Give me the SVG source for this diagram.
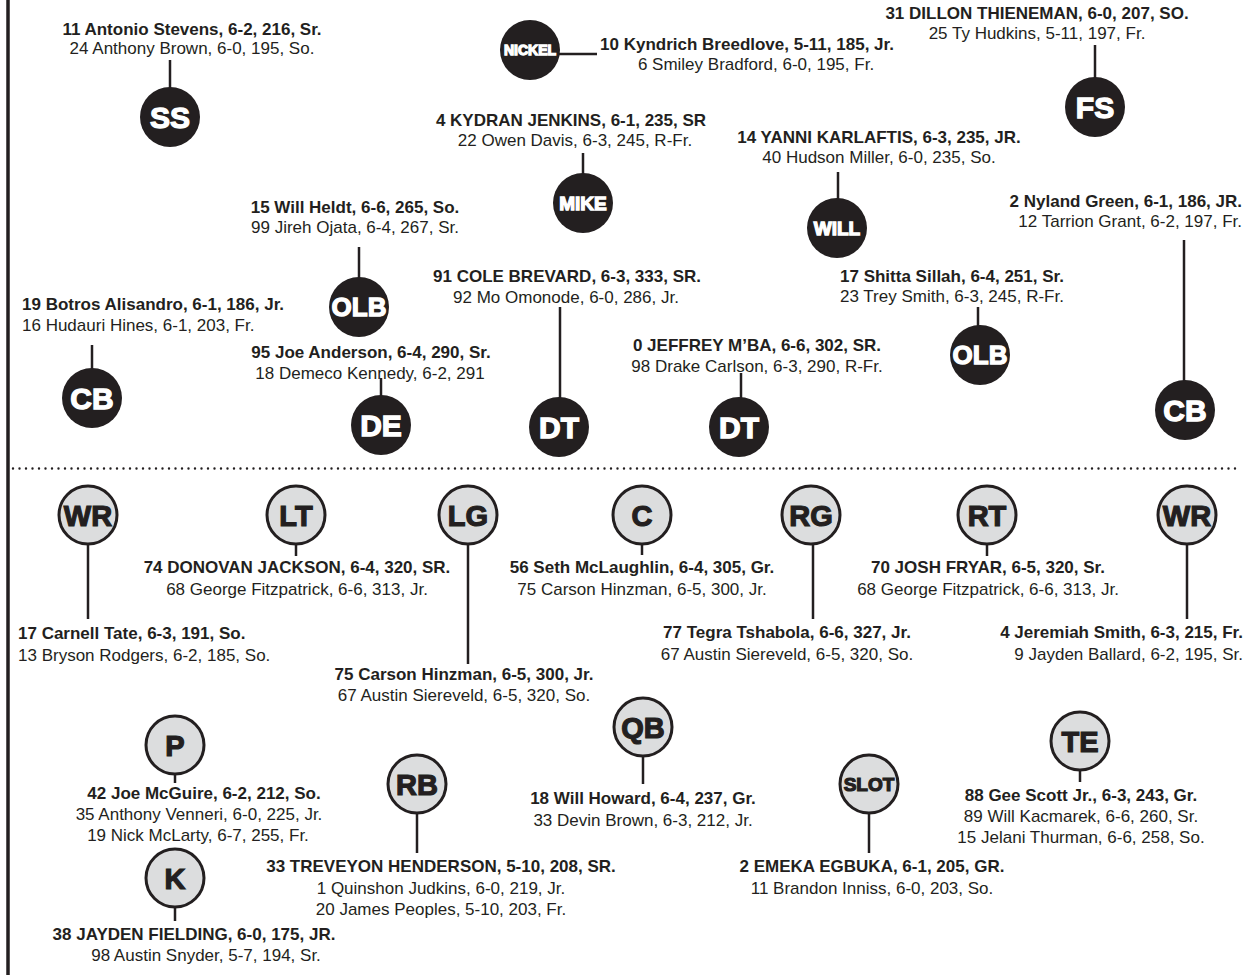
<svg xmlns="http://www.w3.org/2000/svg" width="1245" height="979" viewBox="0 0 1245 979">
<style>
.b{font-family:"Liberation Sans",Arial,sans-serif;font-size:17px;font-weight:700;fill:#231f20}
.n{font-family:"Liberation Sans",Arial,sans-serif;font-size:17px;fill:#231f20}
.m{text-anchor:middle}
.e{text-anchor:end}
.dc{fill:#231f20}
.oc{fill:#dcddde;stroke:#231f20;stroke-width:3}
.dl{font-family:"Liberation Sans",Arial,sans-serif;font-weight:700;fill:#fff;stroke:#fff;stroke-width:1.3;text-anchor:middle}
.ol{font-family:"Liberation Sans",Arial,sans-serif;font-weight:700;fill:#231f20;stroke:#231f20;stroke-width:1.2;text-anchor:middle}
.big{font-size:30px}
.sl{font-size:29px}
#connectors line{stroke:#231f20;stroke-width:2.5}
</style>
<rect width="1245" height="979" fill="#fff"/>
<line x1="8" y1="0" x2="8" y2="975" stroke="#231f20" stroke-width="3.5"/>
<line x1="13" y1="468.5" x2="1240" y2="468.5" stroke="#231f20" stroke-width="2.4" stroke-linecap="round" stroke-dasharray="0 6.5"/>

<g id="connectors">
<line x1="170" y1="60" x2="170" y2="88"/>
<line x1="559" y1="54" x2="597" y2="54"/>
<line x1="1095" y1="45" x2="1095" y2="78"/>
<line x1="583" y1="153" x2="583" y2="174"/>
<line x1="838" y1="172" x2="838" y2="200"/>
<line x1="359" y1="247" x2="359" y2="278"/>
<line x1="92" y1="345" x2="92" y2="369"/>
<line x1="381" y1="378" x2="381" y2="396"/>
<line x1="560" y1="307" x2="560" y2="398"/>
<line x1="741" y1="373" x2="741" y2="398"/>
<line x1="978" y1="307" x2="978" y2="326"/>
<line x1="1184" y1="240" x2="1184" y2="381"/>
<line x1="88" y1="545" x2="88" y2="619"/>
<line x1="296" y1="545" x2="296" y2="556"/>
<line x1="468" y1="545" x2="468" y2="664"/>
<line x1="642" y1="545" x2="642" y2="555"/>
<line x1="813" y1="545" x2="813" y2="619"/>
<line x1="987" y1="545" x2="987" y2="556"/>
<line x1="1187" y1="545" x2="1187" y2="619"/>
<line x1="175" y1="775" x2="175" y2="783"/>
<line x1="175" y1="908" x2="175" y2="921"/>
<line x1="417" y1="814" x2="417" y2="853"/>
<line x1="643" y1="757" x2="643" y2="784"/>
<line x1="869" y1="814" x2="869" y2="853"/>
<line x1="1080" y1="771" x2="1080" y2="782"/>
</g>

<g id="ss">
<text class="b m" x="192" y="35">11 Antonio Stevens, 6-2, 216, Sr.</text>
<text class="n m" x="192" y="54">24 Anthony Brown, 6-0, 195, So.</text>
<circle class="dc" cx="170" cy="117" r="30"/>
<text class="dl big" x="170" y="128">SS</text>
</g>
<g id="nickel">
<circle class="dc" cx="530" cy="50" r="30"/>
<text class="dl" style="font-size:14px" x="530" y="55">NICKEL</text>
<text class="b m" x="747" y="50">10 Kyndrich Breedlove, 5-11, 185, Jr.</text>
<text class="n m" x="756" y="70">6 Smiley Bradford, 6-0, 195, Fr.</text>
</g>
<g id="fs">
<text class="b m" x="1037" y="19">31 DILLON THIENEMAN, 6-0, 207, SO.</text>
<text class="n m" x="1037" y="39">25 Ty Hudkins, 5-11, 197, Fr.</text>
<circle class="dc" cx="1095" cy="107" r="30"/>
<text class="dl big" x="1095" y="118">FS</text>
</g>
<g id="mike">
<text class="b m" x="571" y="126">4 KYDRAN JENKINS, 6-1, 235, SR</text>
<text class="n m" x="575" y="146">22 Owen Davis, 6-3, 245, R-Fr.</text>
<circle class="dc" cx="583" cy="203" r="30"/>
<text class="dl" style="font-size:19px" x="583" y="210">MIKE</text>
</g>
<g id="will">
<text class="b m" x="879" y="143">14 YANNI KARLAFTIS, 6-3, 235, JR.</text>
<text class="n m" x="879" y="163">40 Hudson Miller, 6-0, 235, So.</text>
<circle class="dc" cx="837" cy="228" r="30"/>
<text class="dl" style="font-size:19px" x="837" y="235">WILL</text>
</g>
<g id="olb-left">
<text class="b m" x="355" y="213">15 Will Heldt, 6-6, 265, So.</text>
<text class="n m" x="355" y="233">99 Jireh Ojata, 6-4, 267, Sr.</text>
<circle class="dc" cx="359" cy="307" r="30"/>
<text class="dl" style="font-size:26px" x="359" y="316">OLB</text>
</g>
<g id="cb-left">
<text class="b" x="22" y="310">19 Botros Alisandro, 6-1, 186, Jr.</text>
<text class="n" x="22" y="331">16 Hudauri Hines, 6-1, 203, Fr.</text>
<circle class="dc" cx="92" cy="398" r="30"/>
<text class="dl big" x="92" y="409">CB</text>
</g>
<g id="de">
<text class="b m" x="371" y="358">95 Joe Anderson, 6-4, 290, Sr.</text>
<text class="n m" x="370" y="379">18 Demeco Kennedy, 6-2, 291</text>
<circle class="dc" cx="381" cy="425" r="30"/>
<text class="dl big" x="381" y="436">DE</text>
</g>
<g id="dt-left">
<text class="b m" x="567" y="282">91 COLE BREVARD, 6-3, 333, SR.</text>
<text class="n m" x="566" y="303">92 Mo Omonode, 6-0, 286, Jr.</text>
<circle class="dc" cx="559" cy="427" r="30"/>
<text class="dl big" x="559" y="438">DT</text>
</g>
<g id="dt-right">
<text class="b m" x="757" y="351">0 JEFFREY M’BA, 6-6, 302, SR.</text>
<text class="n m" x="757" y="372">98 Drake Carlson, 6-3, 290, R-Fr.</text>
<circle class="dc" cx="739" cy="427" r="30"/>
<text class="dl big" x="739" y="438">DT</text>
</g>
<g id="olb-right">
<text class="b m" x="952" y="282">17 Shitta Sillah, 6-4, 251, Sr.</text>
<text class="n m" x="952" y="302">23 Trey Smith, 6-3, 245, R-Fr.</text>
<circle class="dc" cx="980" cy="355" r="30"/>
<text class="dl" style="font-size:26px" x="980" y="364">OLB</text>
</g>
<g id="cb-right">
<text class="b e" x="1242" y="207">2 Nyland Green, 6-1, 186, JR.</text>
<text class="n e" x="1242" y="227">12 Tarrion Grant, 6-2, 197, Fr.</text>
<circle class="dc" cx="1185" cy="410" r="30"/>
<text class="dl big" x="1185" y="421">CB</text>
</g>

<g id="wr-left">
<circle class="oc" cx="88" cy="515" r="29"/>
<text class="ol sl" x="88" y="525.5">WR</text>
<text class="b" x="18" y="639">17 Carnell Tate, 6-3, 191, So.</text>
<text class="n" x="18" y="661">13 Bryson Rodgers, 6-2, 185, So.</text>
</g>
<g id="lt">
<circle class="oc" cx="296" cy="515" r="29"/>
<text class="ol sl" x="296" y="525.5">LT</text>
<text class="b m" x="297" y="573">74 DONOVAN JACKSON, 6-4, 320, SR.</text>
<text class="n m" x="297" y="595">68 George Fitzpatrick, 6-6, 313, Jr.</text>
</g>
<g id="lg">
<circle class="oc" cx="468" cy="515" r="29"/>
<text class="ol sl" x="468" y="525.5">LG</text>
<text class="b m" x="464" y="680">75 Carson Hinzman, 6-5, 300, Jr.</text>
<text class="n m" x="464" y="701">67 Austin Siereveld, 6-5, 320, So.</text>
</g>
<g id="c">
<circle class="oc" cx="642" cy="515" r="29"/>
<text class="ol sl" x="642" y="525.5">C</text>
<text class="b m" x="642" y="573">56 Seth McLaughlin, 6-4, 305, Gr.</text>
<text class="n m" x="642" y="595">75 Carson Hinzman, 6-5, 300, Jr.</text>
</g>
<g id="rg">
<circle class="oc" cx="811" cy="515" r="29"/>
<text class="ol sl" x="811" y="525.5">RG</text>
<text class="b m" x="787" y="638">77 Tegra Tshabola, 6-6, 327, Jr.</text>
<text class="n m" x="787" y="660">67 Austin Siereveld, 6-5, 320, So.</text>
</g>
<g id="rt">
<circle class="oc" cx="987" cy="515" r="29"/>
<text class="ol sl" x="987" y="525.5">RT</text>
<text class="b m" x="988" y="573">70 JOSH FRYAR, 6-5, 320, Sr.</text>
<text class="n m" x="988" y="595">68 George Fitzpatrick, 6-6, 313, Jr.</text>
</g>
<g id="wr-right">
<circle class="oc" cx="1187" cy="515" r="29"/>
<text class="ol sl" x="1187" y="525.5">WR</text>
<text class="b e" x="1243" y="638">4 Jeremiah Smith, 6-3, 215, Fr.</text>
<text class="n e" x="1243" y="660">9 Jayden Ballard, 6-2, 195, Sr.</text>
</g>
<g id="p">
<circle class="oc" cx="175" cy="745" r="29"/>
<text class="ol sl" x="175" y="755.5">P</text>
<text class="b m" x="204" y="799">42 Joe McGuire, 6-2, 212, So.</text>
<text class="n m" x="199" y="820">35 Anthony Venneri, 6-0, 225, Jr.</text>
<text class="n m" x="198" y="841">19 Nick McLarty, 6-7, 255, Fr.</text>
</g>
<g id="k">
<circle class="oc" cx="175" cy="878" r="29"/>
<text class="ol sl" x="175" y="888.5">K</text>
<text class="b m" x="194" y="940">38 JAYDEN FIELDING, 6-0, 175, JR.</text>
<text class="n m" x="206" y="961">98 Austin Snyder, 5-7, 194, Sr.</text>
</g>
<g id="rb">
<circle class="oc" cx="417" cy="784" r="29"/>
<text class="ol sl" x="417" y="794.5">RB</text>
<text class="b m" x="441" y="872">33 TREVEYON HENDERSON, 5-10, 208, SR.</text>
<text class="n m" x="441" y="894">1 Quinshon Judkins, 6-0, 219, Jr.</text>
<text class="n m" x="441" y="915">20 James Peoples, 5-10, 203, Fr.</text>
</g>
<g id="qb">
<circle class="oc" cx="643" cy="727" r="29"/>
<text class="ol sl" x="643" y="737.5">QB</text>
<text class="b m" x="643" y="804">18 Will Howard, 6-4, 237, Gr.</text>
<text class="n m" x="643" y="826">33 Devin Brown, 6-3, 212, Jr.</text>
</g>
<g id="slot">
<circle class="oc" cx="869" cy="784" r="29"/>
<text class="ol" style="font-size:19px" x="869" y="791">SLOT</text>
<text class="b m" x="872" y="872">2 EMEKA EGBUKA, 6-1, 205, GR.</text>
<text class="n m" x="872" y="894">11 Brandon Inniss, 6-0, 203, So.</text>
</g>
<g id="te">
<circle class="oc" cx="1080" cy="741" r="29"/>
<text class="ol sl" x="1080" y="751.5">TE</text>
<text class="b m" x="1081" y="801">88 Gee Scott Jr., 6-3, 243, Gr.</text>
<text class="n m" x="1081" y="822">89 Will Kacmarek, 6-6, 260, Sr.</text>
<text class="n m" x="1081" y="843">15 Jelani Thurman, 6-6, 258, So.</text>
</g>
</svg>
